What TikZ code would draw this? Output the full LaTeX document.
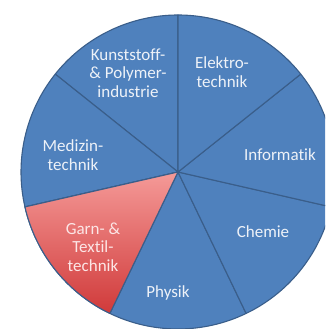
\documentclass[tikz,border=0pt]{standalone}
\usepackage{fontspec}
\setmainfont{Carlito}[Ligatures=NoCommon]
\usetikzlibrary{calc}
\definecolor{pieblue}{HTML}{4F81BD}
\definecolor{pieedge}{HTML}{3A5E8A}
\definecolor{pietext}{HTML}{EEF2F8}
\definecolor{garntop}{HTML}{F59A98}
\definecolor{garnbot}{HTML}{D03A3A}
\definecolor{garntext}{HTML}{FCE6E6}
\tikzset{
  pieSlice/.style={fill=pieblue, draw=pieedge, line width=1.1pt, line join=round},
  pieLabel/.style={font=\fontsize{17}{18.5}\selectfont, text=pietext, align=center, inner sep=0pt}
}

\begin{document}
\begin{tikzpicture}[x=1pt, y=1pt]
  \useasboundingbox (0,0) rectangle (325,329);
  \clip (0,0) rectangle (325,329);
  \coordinate (mid) at (178,157);
  % seven equal slices, counter-clockwise from the top
  \foreach \i in {0,...,6} {
    \pgfmathsetmacro{\a}{90+\i*360/7}
    \pgfmathsetmacro{\b}{90+(\i+1)*360/7}
    \draw[pieSlice] (mid) -- ++(\a:157) arc[start angle=\a, end angle=\b, radius=157] -- cycle;
  }
  % third slice again, shaded red
  \pgfmathsetmacro{\a}{90+2*360/7}
  \pgfmathsetmacro{\b}{90+3*360/7}
  \draw[pieSlice, top color=garntop, bottom color=garnbot] (mid) -- ++(\a:157) arc[start angle=\a, end angle=\b, radius=157] -- cycle;
  \node[pieLabel] (kunst) at (128,256) {Kunststoff-\\\& Polymer-\\industrie};
  \node[pieLabel] (elektro) at (222,257) {Elektro-\\technik};
  \node[pieLabel] (info) at (280,174) {Informatik};
  \node[pieLabel] (medizin) at (73,174) {Medizin-\\technik};
  \node[pieLabel, text=garntext] (garn) at (93,82) {Garn- \&\\Textil-\\technik};
  \node[pieLabel] (physik) at (168,36) {Physik};
  \node[pieLabel] (chemie) at (263,97) {Chemie};
\end{tikzpicture}
\end{document}
